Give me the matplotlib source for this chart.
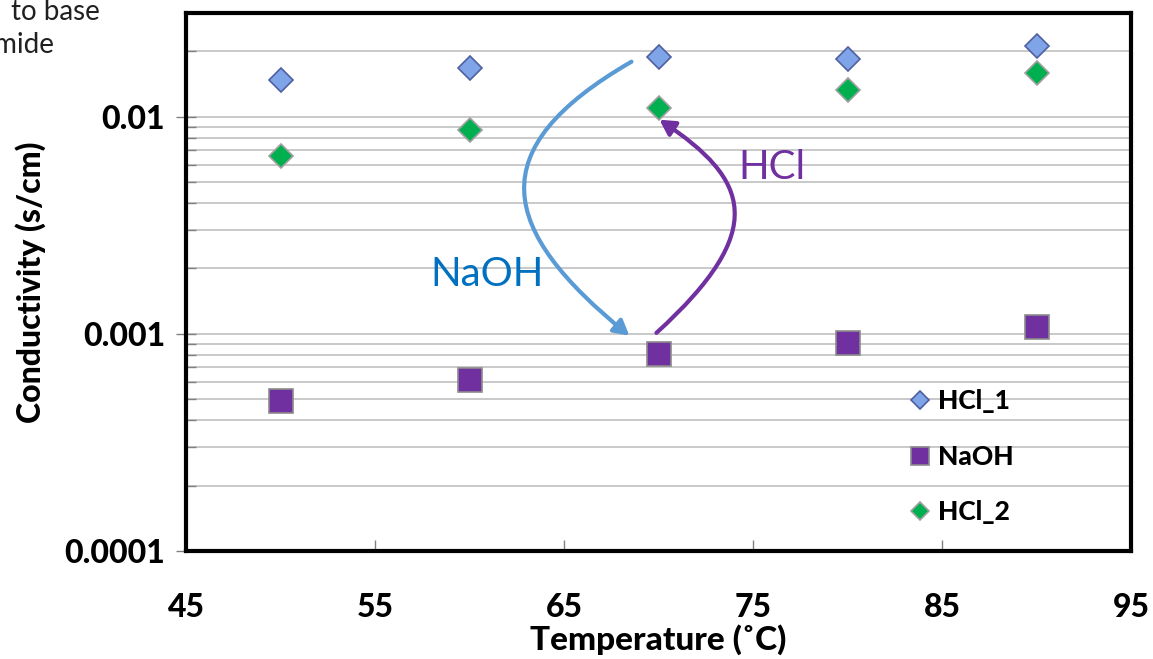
import matplotlib
matplotlib.use("Agg")
import matplotlib.pyplot as plt
from matplotlib.path import Path
from matplotlib.patches import FancyArrowPatch
from matplotlib.ticker import LogLocator, NullFormatter, FixedLocator, FixedFormatter

plt.rcParams['font.family'] = ['Lato', 'DejaVu Sans']
W = 'black'

temperature = [50, 60, 70, 80, 90]
hcl_1 = [0.0147, 0.0168, 0.0189, 0.0185, 0.0212]
naoh = [0.00049, 0.00061, 0.00081, 0.00091, 0.00107]
hcl_2 = [0.0066, 0.0087, 0.0109, 0.0132, 0.0158]

x_ticks = [45, 55, 65, 75, 85, 95]
y_ticks = [0.0001, 0.001, 0.01]
y_tick_labels = ["0.0001", "0.001", "0.01"]

naoh_arrow_x = [68.57, 60.52, 61.58, 68.46]
naoh_arrow_y = [0.0179, 0.00705, 0.00301, 0.00098]
hcl_arrow_x = [69.89, 75.88, 74.82, 70.05]
hcl_arrow_y = [0.00101, 0.00301, 0.00513, 0.00968]

fig = plt.figure(figsize=(11.53, 6.59), dpi=100)
ax = fig.add_axes([186/1153, 108/659, (1131-186)/1153, (551-13)/659])

ax.set_yscale('log')
ax.set_xlim(45, 95)
ax.set_ylim(0.0001, 0.03)

ax.yaxis.set_major_locator(FixedLocator(y_ticks))
ax.yaxis.set_major_formatter(FixedFormatter(y_tick_labels))
ax.yaxis.set_minor_locator(LogLocator(base=10, subs=[2, 3, 4, 5, 6, 7, 8, 9]))
ax.yaxis.set_minor_formatter(NullFormatter())
ax.set_xticks(x_ticks)

ax.grid(True, which='both', axis='y', color='#c0c0c0', linewidth=1.2, zorder=0)
ax.set_axisbelow(True)

for s in ax.spines.values():
    s.set_linewidth(3)
    s.set_color('black')

ax.tick_params(axis='y', which='major', direction='inout', length=14, width=1, color='#808080',
               labelsize=23, pad=8)
ax.tick_params(axis='y', which='minor', direction='in', length=7, width=1, color='#808080')
ax.tick_params(axis='x', which='major', direction='in', length=8, width=1, color='#808080',
               labelsize=23, pad=30)
for lbl in ax.get_xticklabels() + ax.get_yticklabels():
    lbl.set_fontweight(W)

ax.plot(temperature, hcl_1, linestyle='none', marker='D', markersize=12,
        markerfacecolor='#7fa4e8', markeredgecolor='#4f5fa0', markeredgewidth=1.2,
        label='HCl_1', zorder=3)
ax.plot(temperature, naoh, linestyle='none', marker='s', markersize=17,
        markerfacecolor='#7030a0', markeredgecolor='#8c8c8c', markeredgewidth=1.2,
        label='NaOH', zorder=3)
ax.plot(temperature, hcl_2, linestyle='none', marker='D', markersize=12,
        markerfacecolor='#00b050', markeredgecolor='#a0a0a0', markeredgewidth=1.2,
        label='HCl_2', zorder=3)

codes = [Path.MOVETO, Path.CURVE4, Path.CURVE4, Path.CURVE4]
blue_path = Path(list(zip(naoh_arrow_x, naoh_arrow_y)), codes)
purple_path = Path(list(zip(hcl_arrow_x, hcl_arrow_y)), codes)

arr1 = FancyArrowPatch(path=blue_path.transformed(ax.transData), transform=None,
                       arrowstyle='-|>,head_length=9,head_width=5', color='#5b9bd5',
                       linewidth=3, zorder=4)
arr2 = FancyArrowPatch(path=purple_path.transformed(ax.transData), transform=None,
                       arrowstyle='-|>,head_length=9,head_width=5', color='#7030a0',
                       linewidth=3, zorder=4)
ax.add_artist(arr1)
ax.add_artist(arr2)

ax.text(60.94, 0.00187, 'NaOH', color='#0070c0', fontsize=29, ha='center', va='center')
ax.text(76.0, 0.00582, 'HCl', color='#7030a0', fontsize=29, ha='center', va='center')

leg = ax.legend(loc='upper left', bbox_to_anchor=(0.74, 0.345), frameon=False,
                fontsize=19, labelspacing=1.2, handlelength=0.8, handletextpad=0.3,
                markerscale=0.8)
for t in leg.get_texts():
    t.set_fontweight(W)

ax.set_xlabel('Temperature (˚C)', fontsize=24, fontweight=W, labelpad=2)
ax.set_ylabel('Conductivity (s/cm)', fontsize=23, fontweight=W, labelpad=13)

fig.text(100/1153, 1-12/659, 'to base', fontsize=20, ha='right', va='center', color='#202020')
fig.text(54/1153, 1-45/659, 'mide', fontsize=20, ha='right', va='center', color='#202020')

fig.savefig('out.png', dpi=100)
